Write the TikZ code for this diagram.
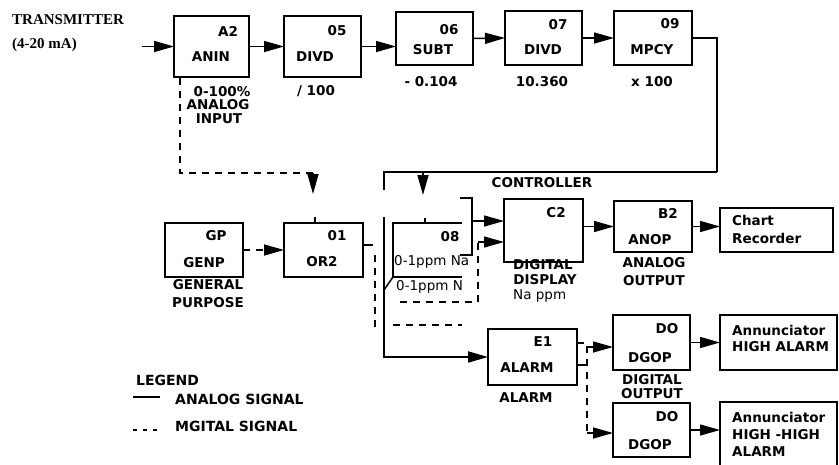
\documentclass[tikz,border=0pt]{standalone}
\usepackage{fontspec}
\setmainfont{DejaVu Sans}
\newfontfamily\serifb{Liberation Serif}
\usetikzlibrary{arrows.meta}
\begin{document}
\begin{tikzpicture}[x=1pt,y=-1pt,
  box/.style={draw,line width=1.4pt,anchor=north west,inner sep=0pt,outer sep=0pt},
  t/.style={inner sep=0pt,font=\fontsize{13.5}{15}\selectfont\bfseries},
  tl/.style={t,anchor=west},
  tn/.style={inner sep=0pt,font=\fontsize{13.5}{15}\selectfont},
  lg/.style={inner sep=0pt,anchor=west,font=\fontsize{14}{15}\selectfont\bfseries},
  ser/.style={inner sep=0pt,anchor=west,font=\serifb\fontsize{15}{16}\selectfont\bfseries},
  ana/.style={line width=1.5pt},
  tip/.style={-{Triangle[length=20pt,width=11pt]}},
  dig/.style={line width=1.7pt,dash pattern=on 7pt off 6pt},
]
\fill[white] (0,0) rectangle (839,464);
\useasboundingbox (0,0) rectangle (839,464);

% ---- boxes
\node[box,minimum width=75,minimum height=61] (nA2) at (174,16) {};
\node[box,minimum width=77,minimum height=61] (n05) at (284,16) {};
\node[box,minimum width=77,minimum height=53] (n06) at (396,12) {};
\node[box,minimum width=77,minimum height=54] (n07) at (505,11) {};
\node[box,minimum width=78,minimum height=54] (n09) at (614,11) {};
\node[box,minimum width=78,minimum height=54] (nGP) at (165,223) {};
\node[box,minimum width=79,minimum height=54] (nOR) at (284,223) {};
\node[box,minimum width=79,minimum height=63] (nC2) at (504,199) {};
\node[box,minimum width=78,minimum height=51] (nB2) at (614,201) {};
\node[box,minimum width=113,minimum height=44] (nCR) at (720,208) {};
\node[box,minimum width=89,minimum height=56] (nE1) at (488,329) {};
\node[box,minimum width=77,minimum height=55] (nDO1) at (613,315) {};
\node[box,minimum width=77,minimum height=54] (nDO2) at (613,403) {};
\node[box,minimum width=117,minimum height=55] (nAN1) at (720,315) {};
\node[box,minimum width=117,minimum height=75] (nAN2) at (720,402) {};

% ---- texts
\node[ser] (tx1) at (12,20) {TRANSMITTER};
\node[ser] (tx2) at (12,45) {(4-20 mA)};

\node[t] (l1) at (228,31) {A2};
\node[t] (l2) at (211,57) {ANIN};
\node[t] (l3) at (222,92) {0-100\%};
\node[t] (l4) at (218,105) {ANALOG};
\node[t] (l5) at (219,119) {INPUT};

\node[t] (l6) at (337,31) {05};
\node[t] (l7) at (315,57) {DIVD};
\node[t] (l8) at (316,91) {/ 100};

\node[t] (l9) at (449,30) {06};
\node[t] (l10) at (433,50) {SUBT};
\node[t] (l11) at (431,82) {- 0.104};

\node[t] (l12) at (558,25) {07};
\node[t] (l13) at (543,50) {DIVD};
\node[t] (l14) at (542,82) {10.360};

\node[t] (l15) at (670,24) {09};
\node[t] (l16) at (652,50) {MPCY};
\node[t] (l17) at (652,82) {x 100};

\node[t] (l18) at (216,236) {GP};
\node[t] (l19) at (204,263) {GENP};
\node[t] (l21) at (208,285) {GENERAL};
\node[t] (l22) at (208,303) {PURPOSE};

\node[t] (l23) at (337,236) {01};
\node[t] (l24) at (322,262) {OR2};

\node[t] (l25) at (542,183) {CONTROLLER};
\node[t] (l26) at (450,237) {08};
\node[tn,anchor=west] (l27) at (394,262) {0-1ppm Na};
\node[tn,anchor=west] (l28) at (396,287) {0-1ppm N};

\node[t] (l29) at (556,213) {C2};
\node[t] (l30) at (543,265) {DIGITAL};
\node[t] (l31) at (545,280) {DISPLAY};
\node[tn,anchor=west] (l32) at (513,296) {Na ppm};

\node[t] (l33) at (668,213) {B2};
\node[t] (l34) at (650,240) {ANOP};
\node[t] (l35) at (654,263) {ANALOG};
\node[t] (l36) at (654,281) {OUTPUT};

\node[tl] (l37) at (732,220) {Chart};
\node[tl] (l38) at (732,238) {Recorder};

\node[t] (l39) at (543,342) {E1};
\node[t] (l40) at (527,368) {ALARM};
\node[t] (l41) at (526,398) {ALARM};

\node[t] (l42) at (667,329) {DO};
\node[t] (l43) at (650,358) {DGOP};
\node[t] (l44) at (652,380) {DIGITAL};
\node[t] (l45) at (652,394) {OUTPUT};
\node[t] (l46) at (667,417) {DO};
\node[t] (l47) at (650,445) {DGOP};

\node[tl] (l48) at (732,330) {Annunciator};
\node[tl] (l49) at (732,347) {HIGH ALARM};
\node[tl] (l50) at (732,417) {Annunciator};
\node[tl] (l51) at (732,435) {HIGH -HIGH};
\node[tl] (l52) at (732,452) {ALARM};

\node[lg] (g1) at (136,380) {LEGEND};
\node[lg] (g2) at (175,399) {ANALOG SIGNAL};
\node[lg] (g3) at (175,426) {MGITAL SIGNAL};
\draw[line width=2.5pt] (133,397) -- (160,397);
\draw[line width=2.5pt,dash pattern=on 4pt off 6pt] (133,430) -- (160,430);

% ---- top chain
\coordinate (tx) at (142,46.5);
\draw[ana,tip] (tx) -- (nA2.west);
\draw[ana,tip] (nA2.east) -- (n05.west);
\draw[ana,tip] (n05.east) -- (n05.east -| n06.west);
\draw[ana,tip] (n06.east) -- (n07.west);
\draw[ana,tip] (n07.east) -- (n09.west);

% ---- analog feedback line
\coordinate (c1) at (717,172);
\coordinate (c2) at (384,172);
\coordinate (c3) at (384,190);
\coordinate (c4) at (384,217);
\draw[line width=2.8pt] (n09.east) -| (c1);
\draw[line width=2.2pt] (c1) -- (c2) -- (c3);
\draw[line width=1.9pt,tip] (c4) |- (nE1.west);
\coordinate (c5) at (423,172);
\coordinate (c6) at (423,195);
\draw[ana,tip] (c5) -- (c6);

% ---- digital from A2 to OR2
\coordinate (p1) at (180,78);
\coordinate (p2) at (180,173);
\coordinate (p3) at (313,173);
\coordinate (p4) at (313,194);
\draw[dig] (p1) -- (p2) -- (p3);
\draw[ana,tip] (p3) -- (p4);
\draw[ana] (315,217) -- (315,223);

\draw[dig,tip] (nGP.east) -- (nOR.west);
\draw[ana] ([yshift=5pt]nOR.east) -- ++(10,0);

% ---- block 08 (open box)
\draw[ana] (462,223) -- (393,223) -- (393,277) -- (462,277);
\draw[ana] (425,218) -- (425,223);
\draw[ana] (384,290) -- (393,277);
\draw[ana] (460,198) -| (472,255) -- (460,255);
\coordinate (b1) at (472,221);
\draw[ana,tip] (b1) -- (b1 -| nC2.west);
\coordinate (q1) at (400,302);
\coordinate (q2) at (478,302);
\coordinate (q3) at (478,242);
\draw[dig] (q1) -- (q2) -- (q3);
\draw[ana,tip] (q3) -- (q3 -| nC2.west);
\draw[dig] (375,255) -- (375,330);
\draw[dig] (393,325) -- (462,325);

% ---- controller outputs
\draw[ana,tip] (nC2.east |- nB2.west) -- (nB2.west);
\draw[ana,tip] (nB2.east) -- (nB2.east -| nCR.west);

% ---- alarm outputs
\coordinate (r1) at (587,343);
\coordinate (r2) at (587,433);
\coordinate (r3) at (587,347);
\draw[dig] ([yshift=14pt]nE1.east) -- (r1) -- (r2);
\draw[line width=1.7pt] ([yshift=-8pt]nE1.east) -- ++(9,0);
\draw[ana,tip] (r3) -- (r3 -| nDO1.west);
\draw[ana,tip] (r2) -- (r2 -| nDO2.west);
\draw[ana,tip] (nDO1.east) -- (nAN1.west);
\draw[ana,tip] (nDO2.east) -- (nDO2.east -| nAN2.west);
\end{tikzpicture}
\end{document}
